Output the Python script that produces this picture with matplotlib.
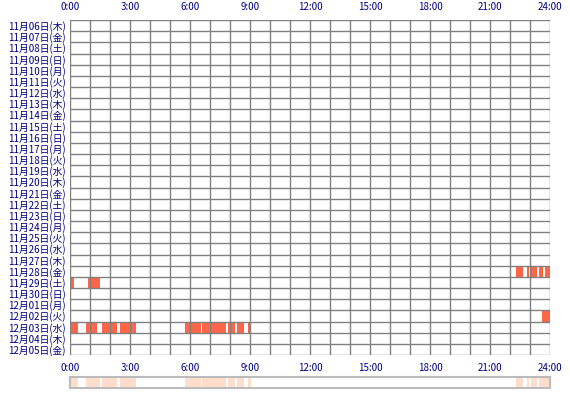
import matplotlib
matplotlib.use('Agg')
import matplotlib.pyplot as plt

plt.rcParams['font.family'] = ['Noto Sans CJK JP', 'DejaVu Sans']

# date labels, top to bottom
dates = ['11月06日(木)', '11月07日(金)', '11月08日(土)', '11月09日(日)', '11月10日(月)',
         '11月11日(火)', '11月12日(水)', '11月13日(木)', '11月14日(金)', '11月15日(土)',
         '11月16日(日)', '11月17日(月)', '11月18日(火)', '11月19日(水)', '11月20日(木)',
         '11月21日(金)', '11月22日(土)', '11月23日(日)', '11月24日(月)', '11月25日(火)',
         '11月26日(水)', '11月27日(木)', '11月28日(金)', '11月29日(土)', '11月30日(日)',
         '12月01日(月)', '12月02日(火)', '12月03日(水)', '12月04日(木)', '12月05日(金)']

# active periods (start hour, end hour) per date
activity = {
    '11月28日(金)': [(22.3, 22.63), (22.87, 22.93), (23.07, 23.37), (23.43, 23.67), (23.73, 24.0)],
    '11月29日(土)': [(0.0, 0.22), (0.88, 1.5)],
    '12月02日(火)': [(23.6, 24.0)],
    '12月03日(水)': [(0.0, 0.42), (0.82, 1.37), (1.62, 2.35), (2.52, 3.3), (5.77, 6.55),
                    (6.62, 7.8), (7.88, 8.27), (8.33, 8.72), (8.92, 9.05)],
}
hour_ticks = [0, 3, 6, 9, 12, 15, 18, 21, 24]

W, H = 570, 400
fig = plt.figure(figsize=(5.7, 4.0), dpi=100)
ax = fig.add_axes([70 / W, 1 - 355 / H, 480 / W, 335 / H])
n = len(dates)
for i, d in enumerate(dates):
    for s, e in activity.get(d, []):
        ax.barh(i, e - s, left=s, height=1.0, color='#FF6547', linewidth=0)
ax.set_xlim(0, 24)
ax.set_ylim(n - 0.5, -0.5)
for h in range(25):
    ax.axvline(h, color='#808080', lw=1.0, zorder=3)
for k in range(n + 1):
    ax.axhline(k - 0.5, color='#808080', lw=1.0, zorder=3)
for sp in ax.spines.values():
    sp.set_visible(False)
ax.set_yticks(range(n))
ax.set_yticklabels(dates, fontsize=7, color='#000080')
ax.set_xticks(hour_ticks)
ax.set_xticklabels([f'{h}:00' for h in hour_ticks], fontsize=7, color='#000080')
ax.tick_params(length=0, pad=3, labeltop=True, top=False)
ax.tick_params(axis='x', pad=6)

# summary strip
ax2 = fig.add_axes([70 / W, 1 - 388 / H, 480 / W, 11 / H])
for d in dates:
    for s, e in activity.get(d, []):
        ax2.axvspan(s, e, color='#FFDDCC', lw=0)
ax2.set_xlim(0, 24)
ax2.set_xticks([])
ax2.set_yticks([])
for sp in ax2.spines.values():
    sp.set_color('#BBBBBB')
    sp.set_linewidth(1.5)

fig.savefig('out.png', dpi=100)
